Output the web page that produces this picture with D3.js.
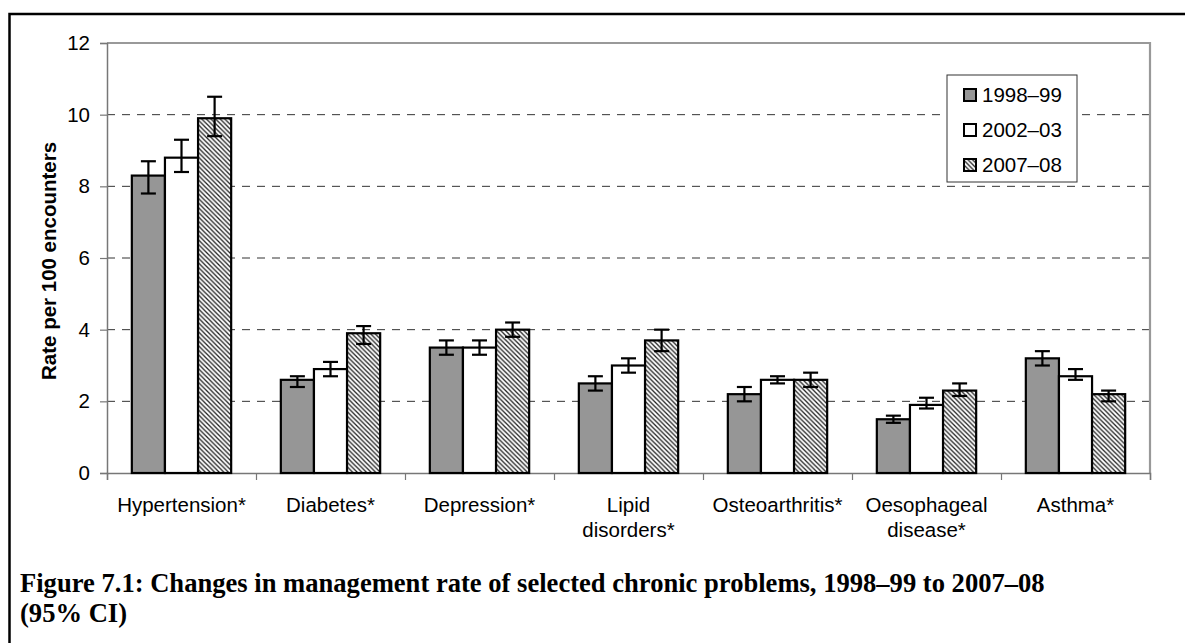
<!DOCTYPE html>
<html>
<head>
<meta charset="utf-8" />
<title>Figure 7.1: Changes in management rate of selected chronic problems</title>
<script src="https://cdn.jsdelivr.net/npm/d3@7"></script>
<style>
body { margin: 0; background: #ffffff; }
svg text { font-family: "Liberation Sans", Arial, sans-serif; fill: #000; }
.caption { font-family: "Liberation Serif", "Times New Roman", serif; font-weight: bold; }
</style>
</head>
<body>
<svg id="chart" width="1185" height="643"></svg>
<script>
// categories (line breaks as in the original axis labels)
const categories = ["Hypertension*", "Diabetes*", "Depression*", "Lipid\ndisorders*", "Osteoarthritis*", "Oesophageal\ndisease*", "Asthma*"];
const seriesNames = ["1998\u201399", "2002\u201303", "2007\u201308"];

// rate per 100 encounters, with 95% CI
const rate9899 = [8.3, 2.6, 3.5, 2.5, 2.2, 1.5, 3.2];
const low9899  = [7.8, 2.4, 3.3, 2.3, 2.0, 1.4, 3.0];
const high9899 = [8.7, 2.7, 3.7, 2.7, 2.4, 1.6, 3.4];

const rate0203 = [8.8, 2.9, 3.5, 3.0, 2.6, 1.9, 2.7];
const low0203  = [8.4, 2.7, 3.3, 2.8, 2.5, 1.8, 2.6];
const high0203 = [9.3, 3.1, 3.7, 3.2, 2.7, 2.1, 2.9];

const rate0708 = [9.9, 3.9, 4.0, 3.7, 2.6, 2.3, 2.2];
const low0708  = [9.4, 3.6, 3.8, 3.4, 2.4, 2.15, 2.0];
const high0708 = [10.5, 4.1, 4.2, 4.0, 2.8, 2.5, 2.3];

const yTicks = [0, 2, 4, 6, 8, 10, 12];
const yTitle = "Rate per 100 encounters";
const captionLines = ["Figure 7.1: Changes in management rate of selected chronic problems, 1998\u201399 to 2007\u201308", "(95% CI)"];

// build rows for drawing
const rates = [rate9899, rate0203, rate0708];
const lows = [low9899, low0203, low0708];
const highs = [high9899, high0203, high0708];
let bars = [];
categories.forEach(function(c, i) {
	seriesNames.forEach(function(s, j) {
		bars.push({cat: c, series: s, value: rates[j][i], lo: lows[j][i], hi: highs[j][i]});
	});
});

const fills = {};
fills[seriesNames[0]] = "#969696";
fills[seriesNames[1]] = "#ffffff";
fills[seriesNames[2]] = "url(#hatch)";

const svg = d3.select("#chart");
const plotLeft = 107, plotRight = 1150, plotTop = 43, plotBottom = 473;
const fontSize = "20.5px";

// hatch pattern for the 2007-08 bars
const defs = svg.append("defs");
const pat = defs.append("pattern")
	.attr("id", "hatch")
	.attr("patternUnits", "userSpaceOnUse")
	.attr("width", 4.6)
	.attr("height", 4.6);
pat.append("rect").attr("width", 4.6).attr("height", 4.6).attr("fill", "#ffffff");
pat.append("path")
	.attr("d", "M-1,-1 L5.6,5.6 M-1,3.6 L1,5.6 M3.6,-1 L5.6,1")
	.attr("stroke", "#222")
	.attr("stroke-width", 1.3);

// outer frame
svg.append("path")
	.attr("d", "M9.5,643 V14 H1185")
	.attr("fill", "none")
	.attr("stroke", "#000")
	.attr("stroke-width", 2.5);

// scales
const x = d3.scaleBand().domain(categories).range([plotLeft, plotRight]).paddingInner(0).paddingOuter(0);
const xSub = d3.scaleBand().domain(seriesNames).range([0, x.bandwidth()]).paddingInner(0).paddingOuter(0.75);
const xEdge = d3.scaleLinear().domain([0, categories.length]).range([plotLeft, plotRight]);
const y = d3.scaleLinear().domain([0, 12]).range([plotBottom, plotTop]);

// dashed gridlines
svg.append("g")
	.selectAll("line")
	.data(yTicks.filter(function(t) { return t > 0 && t < 12; }))
	.enter()
	.append("line")
		.attr("x1", plotLeft)
		.attr("x2", plotRight)
		.attr("y1", function(d) { return y(d); })
		.attr("y2", function(d) { return y(d); })
		.attr("stroke", "#333")
		.attr("stroke-width", 1)
		.attr("stroke-dasharray", "8,7");

// plot area border (top and right)
svg.append("path")
	.attr("d", "M" + plotLeft + "," + y(12) + " H" + plotRight + " V" + plotBottom)
	.attr("fill", "none")
	.attr("stroke", "#999")
	.attr("stroke-width", 2.2);

// y axis
const yAxis = svg.append("g")
	.attr("transform", "translate(" + plotLeft + ",0)")
	.call(d3.axisLeft(y).tickValues(yTicks).tickSize(7).tickPadding(10));
yAxis.select(".domain").attr("stroke", "#777").attr("stroke-width", 1.5);
yAxis.selectAll(".tick line").attr("stroke", "#777").attr("stroke-width", 1.2);
yAxis.selectAll(".tick text").style("font-size", fontSize).attr("fill", "#000");

// x axis with ticks between categories
const xAxis = svg.append("g")
	.attr("transform", "translate(0," + plotBottom + ")")
	.call(d3.axisBottom(xEdge).tickValues(d3.range(categories.length + 1)).tickFormat("").tickSize(7));
xAxis.select(".domain").attr("stroke", "#777").attr("stroke-width", 1.5);
xAxis.selectAll(".tick line").attr("stroke", "#777").attr("stroke-width", 1.2);

// category labels
const catLabels = svg.append("g")
	.selectAll("text")
	.data(categories)
	.enter()
	.append("text")
		.attr("text-anchor", "middle")
		.style("font-size", fontSize)
		.attr("transform", function(d) { return "translate(" + (x(d) + x.bandwidth() / 2) + ",512)"; });
catLabels.selectAll("tspan")
	.data(function(d) { return d.split("\n"); })
	.enter()
	.append("tspan")
		.attr("x", 0)
		.attr("y", function(d, i) { return i * 25; })
		.text(function(d) { return d; });

// bars
svg.append("g")
	.selectAll("rect")
	.data(bars)
	.enter()
	.append("rect")
		.attr("x", function(d) { return x(d.cat) + xSub(d.series); })
		.attr("y", function(d) { return y(d.value); })
		.attr("width", xSub.bandwidth())
		.attr("height", function(d) { return y(0) - y(d.value); })
		.attr("fill", function(d) { return fills[d.series]; })
		.attr("stroke", "#000")
		.attr("stroke-width", 2.2);

// error bars
const capW = 15;
const err = svg.append("g")
	.selectAll("g")
	.data(bars)
	.enter()
	.append("g")
		.attr("transform", function(d) { return "translate(" + (x(d.cat) + xSub(d.series) + xSub.bandwidth() / 2) + ",0)"; })
		.attr("stroke", "#000")
		.attr("stroke-width", 2.2);
err.append("line")
	.attr("x1", 0).attr("x2", 0)
	.attr("y1", function(d) { return y(d.hi); })
	.attr("y2", function(d) { return y(d.lo); });
err.append("line")
	.attr("x1", -capW / 2).attr("x2", capW / 2)
	.attr("y1", function(d) { return y(d.hi); })
	.attr("y2", function(d) { return y(d.hi); });
err.append("line")
	.attr("x1", -capW / 2).attr("x2", capW / 2)
	.attr("y1", function(d) { return y(d.lo); })
	.attr("y2", function(d) { return y(d.lo); });

// y axis title
svg.append("text")
	.attr("transform", "translate(56,380) rotate(-90)")
	.attr("text-anchor", "start")
	.style("font-size", fontSize)
	.style("font-weight", "bold")
	.text(yTitle);

// legend
const legend = svg.append("g").attr("transform", "translate(947,75)");
legend.append("rect")
	.attr("width", 130)
	.attr("height", 107)
	.attr("fill", "#ffffff")
	.attr("stroke", "#333")
	.attr("stroke-width", 1);
const legendRows = legend.selectAll("g.row")
	.data(seriesNames)
	.enter()
	.append("g")
		.attr("class", "row")
		.attr("transform", function(d, i) { return "translate(17," + (20 + i * 35) + ")"; });
legendRows.append("rect")
	.attr("x", 0)
	.attr("y", -6)
	.attr("width", 12)
	.attr("height", 12)
	.attr("fill", function(d) { return fills[d]; })
	.attr("stroke", "#000")
	.attr("stroke-width", 2);
legendRows.append("text")
	.attr("x", 18)
	.attr("dy", "0.36em")
	.style("font-size", fontSize)
	.text(function(d) { return d; });

// caption, sized to the width of the original
const cap = svg.append("g").attr("class", "caption");
const line1 = cap.append("text")
	.attr("class", "caption")
	.attr("x", 20)
	.attr("y", 592)
	.style("font-size", "24px")
	.text(captionLines[0]);
const fitSize = 24 * 1025 / line1.node().getComputedTextLength();
line1.style("font-size", fitSize + "px");
cap.append("text")
	.attr("class", "caption")
	.attr("x", 20)
	.attr("y", 622)
	.style("font-size", fitSize + "px")
	.text(captionLines[1]);
</script>
</body>
</html>
